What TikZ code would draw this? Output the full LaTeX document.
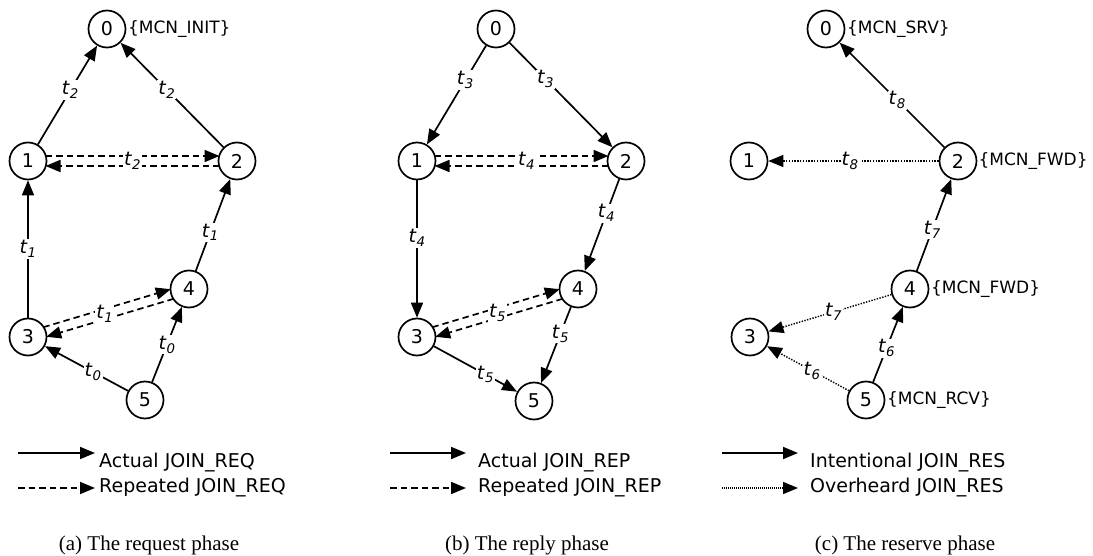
\documentclass[tikz,border=0pt]{standalone}
\usepackage{fontspec}
\setmainfont{DejaVu Sans}
\newfontfamily\capfont{Liberation Serif}
\usetikzlibrary{arrows.meta,calc,positioning}

\tikzset{
	mcn/.style={circle, draw, line width=1.7pt, minimum size=37pt, inner sep=0pt},
	tag/.style={inner sep=0pt, font=\fontsize{17}{20}\selectfont},
	legtext/.style={anchor=base west, inner sep=0pt},
	act/.style={line width=1.7pt, -{Triangle[length=15pt,width=12pt]}},
	rep/.style={act, dash pattern=on 6.5pt off 4pt, shorten <=17.5pt, shorten >=17.5pt},
	ovh/.style={line width=1.4pt, dash pattern=on 1.4pt off 1.4pt, -{Triangle[length=15pt,width=12pt]}},
	ovhleg/.style={ovh, dash pattern=on 1pt off 1pt},
	lbl/.style={fill=white, inner sep=1pt},
	capt/.style={anchor=base, font=\capfont\fontsize{21}{24}\selectfont},
}
\newcommand{\tlab}[1]{\textit{t}\textsubscript{\textit{#1}}}

\begin{document}
\begin{tikzpicture}[x=1pt, y=-1pt, font=\fontsize{19}{22}\selectfont]
	\useasboundingbox (0,0) rectangle (1093,556);

	% (a) request phase
	\node[mcn] (a0) at (107,29) {0};
	\node[mcn] (a1) at (28,161) {1};
	\node[mcn] (a2) at (237,161) {2};
	\node[mcn] (a3) at (28,337) {3};
	\node[mcn] (a4) at (189,289) {4};
	\node[mcn] (a5) at (145,400) {5};
	\node[tag, right=1.5pt of a0] (a0t) {\{MCN\_INIT\}};

	\draw[act] (a1) -- node[lbl, pos=0.55]{\tlab{2}} (a0);
	\draw[act] (a2) -- node[lbl, pos=0.55]{\tlab{2}} (a0);
	\draw[act] (a3) -- node[lbl]{\tlab{1}} (a1);
	\draw[act] (a4) -- node[lbl, pos=0.42]{\tlab{1}} (a2);
	\draw[act] (a5) -- node[lbl, pos=0.42]{\tlab{0}} (a3);
	\draw[act] (a5) -- node[lbl]{\tlab{0}} (a4);

	\draw[rep] ($(a1)!5pt!90:(a2)$) -- ($(a2)!5pt!-90:(a1)$);
	\draw[rep] ($(a2)!5pt!90:(a1)$) -- ($(a1)!5pt!-90:(a2)$);
	\path (a1) -- node[lbl]{\tlab{2}} (a2);
	\draw[rep] ($(a3)!5pt!90:(a4)$) -- ($(a4)!5pt!-90:(a3)$);
	\draw[rep] ($(a4)!5pt!90:(a3)$) -- ($(a3)!5pt!-90:(a4)$);
	\path (a3) -- node[lbl, pos=0.47]{\tlab{1}} (a4);

	% (b) reply phase
	\node[mcn] (b0) at (496,29) {0};
	\node[mcn] (b1) at (417,161) {1};
	\node[mcn] (b2) at (626,161) {2};
	\node[mcn] (b3) at (417,337) {3};
	\node[mcn] (b4) at (578,289) {4};
	\node[mcn] (b5) at (534,401) {5};

	\draw[act] (b0) -- node[lbl, pos=0.35]{\tlab{3}} (b1);
	\draw[act] (b0) -- node[lbl, pos=0.35]{\tlab{3}} (b2);
	\draw[act] (b1) -- node[lbl, pos=0.42]{\tlab{4}} (b3);
	\draw[act] (b2) -- node[lbl, pos=0.37]{\tlab{4}} (b4);
	\draw[act] (b4) -- node[lbl, pos=0.35]{\tlab{5}} (b5);
	\draw[act] (b3) -- node[lbl, pos=0.62]{\tlab{5}} (b5);

	\draw[rep] ($(b1)!5pt!90:(b2)$) -- ($(b2)!5pt!-90:(b1)$);
	\draw[rep] ($(b2)!5pt!90:(b1)$) -- ($(b1)!5pt!-90:(b2)$);
	\path (b1) -- node[lbl, pos=0.53]{\tlab{4}} (b2);
	\draw[rep] ($(b3)!5pt!90:(b4)$) -- ($(b4)!5pt!-90:(b3)$);
	\draw[rep] ($(b4)!5pt!90:(b3)$) -- ($(b3)!5pt!-90:(b4)$);
	\path (b3) -- node[lbl]{\tlab{5}} (b4);

	% (c) reserve phase
	\node[mcn] (c0) at (826,29) {0};
	\node[mcn] (c1) at (749,161) {1};
	\node[mcn] (c2) at (958,161) {2};
	\node[mcn] (c3) at (750,337) {3};
	\node[mcn] (c4) at (910,289) {4};
	\node[mcn] (c5) at (866,400) {5};
	\node[tag, right=1.5pt of c0] (c0t) {\{MCN\_SRV\}};
	\node[tag, right=1pt of c2] (c2t) {\{MCN\_FWD\}};
	\node[tag, right=1.5pt of c4] (c4t) {\{MCN\_FWD\}};
	\node[tag, right=1.5pt of c5] (c5t) {\{MCN\_RCV\}};

	\draw[act] (c2) -- node[lbl, pos=0.45]{\tlab{8}} (c0);
	\draw[ovh] (c2) -- node[lbl, pos=0.52]{\tlab{8}} (c1);
	\draw[act] (c4) -- node[lbl, pos=0.45]{\tlab{7}} (c2);
	\draw[ovh] (c4) -- node[lbl, pos=0.47]{\tlab{7}} (c3);
	\draw[act] (c5) -- node[lbl, pos=0.45]{\tlab{6}} (c4);
	\draw[ovh] (c5) -- node[lbl, pos=0.45]{\tlab{6}} (c3);

	% legends
	\coordinate (la1) at (18,453);  \coordinate (la2) at (95,453);
	\coordinate (la3) at (18,488);  \coordinate (la4) at (95,488);
	\draw[act] (la1) -- (la2);
	\draw[act, dash pattern=on 6.5pt off 4pt] (la3) -- (la4);
	\node[legtext] (lat1) at (99,467) {Actual JOIN\_REQ};
	\node[legtext] (lat2) at (99,492) {Repeated JOIN\_REQ};

	\coordinate (lb1) at (390,453);  \coordinate (lb2) at (466,453);
	\coordinate (lb3) at (390,488);  \coordinate (lb4) at (466,488);
	\draw[act] (lb1) -- (lb2);
	\draw[act, dash pattern=on 6.5pt off 4pt] (lb3) -- (lb4);
	\node[legtext] (lbt1) at (478,467) {Actual JOIN\_REP};
	\node[legtext] (lbt2) at (478,492) {Repeated JOIN\_REP};

	\coordinate (lc1) at (722,453);  \coordinate (lc2) at (798,453);
	\coordinate (lc3) at (722,488);  \coordinate (lc4) at (798,488);
	\draw[act] (lc1) -- (lc2);
	\draw[ovhleg] (lc3) -- (lc4);
	\node[legtext] (lct1) at (810,467) {Intentional JOIN\_RES};
	\node[legtext] (lct2) at (810,492) {Overheard JOIN\_RES};

	% captions
	\node[capt] (capa) at (149,550) {(a) The request phase};
	\node[capt] (capb) at (527,550) {(b) The reply phase};
	\node[capt] (capc) at (905,550) {(c) The reserve phase};
\end{tikzpicture}
\end{document}
